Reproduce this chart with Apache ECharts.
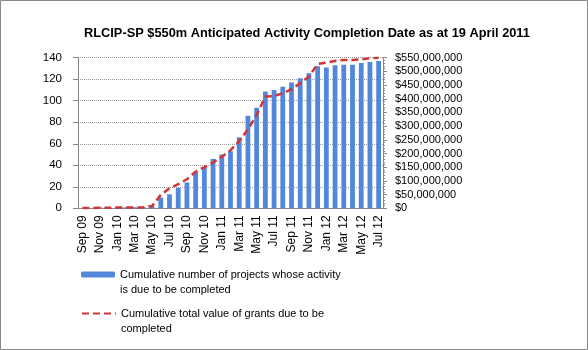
<!DOCTYPE html>
<html lang="en" style="height: 100%">

<head>
  <meta charset="utf-8">
  <title>RLCIP-SP Anticipated Activity Completion</title>
  <script src="https://cdn.jsdelivr.net/npm/echarts@6/dist/echarts.min.js"></script>
</head>

<body style="height: 100%; margin: 0">
  <div id="chart" style="height: 350px; width: 588px"></div>
  <script type="text/javascript">
    const months = [
      'Sep 09', 'Oct 09', 'Nov 09', 'Dec 09', 'Jan 10', 'Feb 10', 'Mar 10', 'Apr 10', 'May 10',
      'Jun 10', 'Jul 10', 'Aug 10', 'Sep 10', 'Oct 10', 'Nov 10', 'Dec 10', 'Jan 11', 'Feb 11',
      'Mar 11', 'Apr 11', 'May 11', 'Jun 11', 'Jul 11', 'Aug 11', 'Sep 11', 'Oct 11', 'Nov 11',
      'Dec 11', 'Jan 12', 'Feb 12', 'Mar 12', 'Apr 12', 'May 12', 'Jun 12', 'Jul 12'
    ];

    // cumulative number of projects
    const projects = [
      0, 0, 1, 1, 1, 1, 1, 1, 2,
      10, 13, 19, 24, 34, 38, 46, 50, 53,
      66, 86, 93.5, 108.5, 110, 113, 117, 121, 125.5,
      132, 131, 133, 133.5, 133.5, 135, 136, 137
    ];

    // cumulative value of grants, $ millions
    const grantsM = [
      1, 1, 2, 2, 3, 3, 3, 4, 8,
      49, 73, 88, 106, 134, 150, 167, 188, 212,
      246, 288, 341, 408, 410, 420, 435, 457, 481,
      527, 532, 538, 542, 542, 544, 548, 550
    ];

    const barName = 'Cumulative number of projects whose activity\nis due to be completed';
    const lineName = 'Cumulative total value of grants due to be\ncompleted';

    const font = 'Liberation Sans';
    const chart = echarts.init(document.getElementById('chart'));

    // leading empty line keeps the icon level with the first text line
    const legendBase = {
      orient: 'vertical',
      left: 76,
      itemWidth: 34,
      itemHeight: 6,
      formatter: name => '\n' + name,
      textStyle: { fontFamily: font, fontSize: 11, color: '#000', lineHeight: 15 }
    };

    const option = {
      animation: false,
      title: {
        text: 'RLCIP-SP $550m Anticipated Activity Completion Date as at 19 April 2011',
        left: 79,
        top: 22,
        textStyle: { fontFamily: font, fontSize: 12.8, fontWeight: 'bold', color: '#000' }
      },
      graphic: [{
        type: 'rect',
        shape: { x: 0.5, y: 0.5, width: 587, height: 349 },
        style: { fill: 'none', stroke: '#888', lineWidth: 1 }
      }],
      legend: [
        Object.assign({}, legendBase, { top: 247, data: [barName] }),
        Object.assign({}, legendBase, {
          top: 286,
          data: [lineName],
          itemStyle: { opacity: 0 }
        })
      ],
      grid: { left: 78, right: 205, top: 57.7, bottom: 141.7 },
      xAxis: {
        type: 'category',
        data: months,
        axisLine: { lineStyle: { color: '#868686' } },
        axisTick: { interval: 1, length: 4, lineStyle: { color: '#868686' } },
        axisLabel: {
          interval: 1,
          rotate: 90,
          margin: 7,
          fontFamily: font,
          fontSize: 12,
          color: '#000'
        }
      },
      yAxis: [{
        type: 'value',
        min: 0,
        max: 140,
        interval: 20,
        axisLine: { show: true, lineStyle: { color: '#868686' } },
        axisTick: { show: true, length: 5, lineStyle: { color: '#868686' } },
        splitLine: { lineStyle: { color: '#999', type: [1, 1] } },
        axisLabel: { margin: 16, fontFamily: font, fontSize: 11.5, color: '#000' }
      }, {
        type: 'value',
        min: 0,
        max: 550000000,
        interval: 50000000,
        position: 'right',
        axisLine: { show: true, lineStyle: { color: '#868686' } },
        axisTick: { show: true, length: 4, lineStyle: { color: '#868686' } },
        minorTick: { show: true, splitNumber: 5, length: 2, lineStyle: { color: '#868686' } },
        splitLine: { show: false },
        axisLabel: {
          margin: 12,
          fontFamily: font,
          fontSize: 11,
          color: '#000',
          formatter: v => '$' + v.toLocaleString('en-US')
        }
      }],
      series: [{
        name: barName,
        type: 'bar',
        yAxisIndex: 0,
        barWidth: '55%',
        itemStyle: { color: '#5287dc' },
        data: projects
      }, {
        name: lineName,
        type: 'line',
        yAxisIndex: 1,
        symbol: 'none',
        lineStyle: { color: '#d03535', width: 2.5, type: [7, 4] },
        itemStyle: { color: '#d03535' },
        data: grantsM.map(v => v * 1000000)
      }]
    };
    chart.setOption(option);
  </script>
</body>

</html>
